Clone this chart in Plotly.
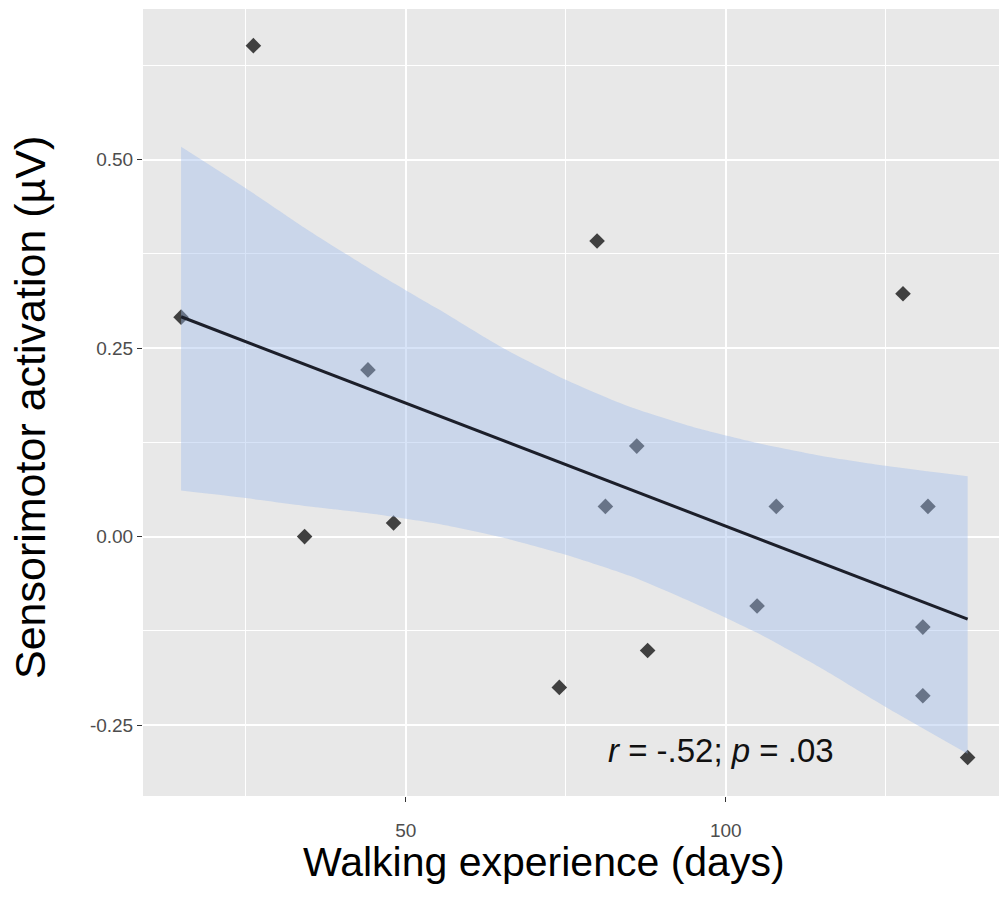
import plotly.graph_objects as go

# ---- data ----
walk_days = [14.9, 26.2, 44.1, 34.2, 48.1, 79.9, 127.7, 86.1, 81.2, 107.9, 131.6,
             104.9, 130.8, 87.8, 74.0, 130.8, 137.8]
activation = [0.291, 0.651, 0.221, 0.000, 0.018, 0.392, 0.322, 0.120, 0.040, 0.040, 0.040,
              -0.092, -0.120, -0.151, -0.200, -0.211, -0.293]

fit_x = [14.9, 137.8]
fit_y = [0.2915, -0.1095]

band_x = [14.9, 25, 35, 45, 55, 65, 75, 85, 95, 105, 115, 125, 137.8]
band_upper = [0.517, 0.462, 0.405, 0.352, 0.302, 0.251, 0.208, 0.172, 0.145, 0.124, 0.107, 0.094, 0.080]
band_lower = [0.061, 0.051, 0.040, 0.030, 0.017, -0.001, -0.024, -0.052, -0.088, -0.128, -0.175, -0.226, -0.288]

x_ticks = [50, 100]
y_ticks = [-0.25, 0.0, 0.25, 0.50]
y_tick_text = ["-0.25", "0.00", "0.25", "0.50"]

W, H = 999, 903
ML, MR, MT, MB = 143, 0, 9, 107

fig = go.Figure()

# points (drawn first so the ribbon tints them, as in ggplot)
fig.add_trace(go.Scatter(
    x=walk_days, y=activation, mode="markers",
    marker=dict(symbol="diamond", size=12, color="#404040", line=dict(width=0)),
    showlegend=False, hoverinfo="skip"))

# confidence band
fig.add_trace(go.Scatter(
    x=band_x, y=band_lower, mode="lines",
    line=dict(width=0, shape="spline", smoothing=0.6),
    showlegend=False, hoverinfo="skip"))
fig.add_trace(go.Scatter(
    x=band_x, y=band_upper, mode="lines",
    line=dict(width=0, shape="spline", smoothing=0.6),
    fill="tonexty", fillcolor="rgba(160,188,235,0.42)",
    showlegend=False, hoverinfo="skip"))

# regression line
fig.add_trace(go.Scatter(
    x=fit_x, y=fit_y, mode="lines",
    line=dict(color="#1c1f2a", width=3),
    showlegend=False, hoverinfo="skip"))

fig.update_layout(
    width=W, height=H,
    margin=dict(l=ML, r=MR, t=MT, b=MB),
    paper_bgcolor="white",
    plot_bgcolor="#E8E8E8",
    font=dict(family="Liberation Sans, Arial, sans-serif"),
    xaxis=dict(
        range=[8.95, 142.7],
        tickvals=x_ticks, ticktext=[str(v) for v in x_ticks],
        ticks="outside", ticklen=5, tickwidth=1.2, tickcolor="#333333",
        tickfont=dict(size=19, color="#4D4D4D"),
        ticklabelstandoff=12,
        showgrid=True, gridcolor="white", gridwidth=2,
        minor=dict(dtick=25, tick0=0, showgrid=True, gridcolor="white", gridwidth=1, ticklen=0),
        zeroline=False, showline=False,
    ),
    yaxis=dict(
        range=[-0.344, 0.6996],
        tickvals=y_ticks, ticktext=y_tick_text,
        ticks="outside", ticklen=5, tickwidth=1.2, tickcolor="#333333",
        tickfont=dict(size=19, color="#4D4D4D"),
        showgrid=True, gridcolor="white", gridwidth=2,
        minor=dict(dtick=0.125, tick0=0, showgrid=True, gridcolor="white", gridwidth=1, ticklen=0),
        zeroline=False, showline=False,
    ),
    annotations=[
        dict(text="<i>r</i> = -.52; <i>p</i> = .03", x=99.2, y=-0.283,
             xref="x", yref="y", showarrow=False,
             font=dict(size=33, color="#111111")),
        dict(text="Walking experience (days)", x=(544 - ML) / (W - ML - MR),
             y=-(862 - (H - MB)) / (H - MT - MB), xref="paper", yref="paper",
             showarrow=False, xanchor="center", yanchor="middle",
             font=dict(size=41, color="black")),
        dict(text="Sensorimotor activation (µV)", x=(30 - ML) / (W - ML - MR),
             y=((H - MB) - 408) / (H - MT - MB), xref="paper", yref="paper",
             showarrow=False, xanchor="center", yanchor="middle", textangle=-90,
             font=dict(size=43, color="black")),
    ],
)

fig.write_html("out.html")
